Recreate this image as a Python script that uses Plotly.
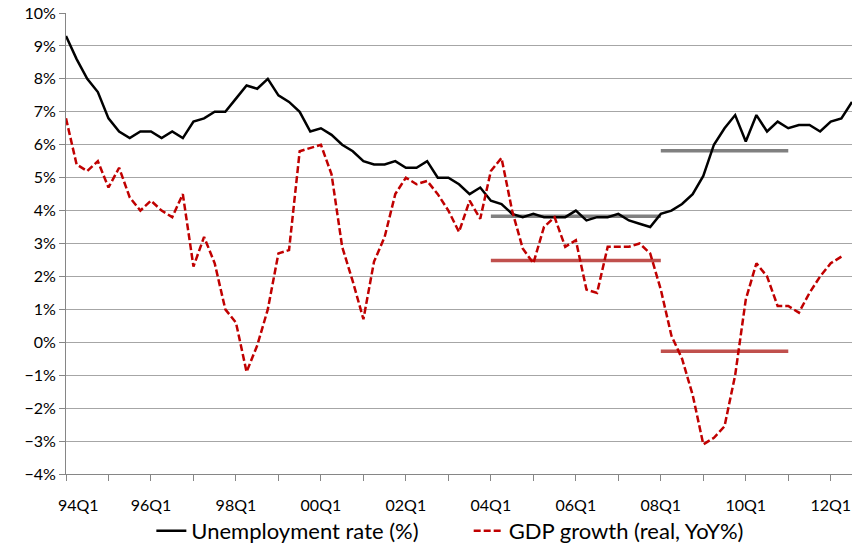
import plotly.graph_objects as go

years = list(range(1994, 2013))
quarters = [f"{y % 100:02d}Q{q}" for y in years for q in range(1, 5)][:75]

unemployment = [9.3, 8.6, 8.0, 7.6, 6.8, 6.4, 6.2, 6.4, 6.4, 6.2, 6.4, 6.2,
                6.7, 6.8, 7.0, 7.0, 7.4, 7.8, 7.7, 8.0, 7.5, 7.3, 7.0, 6.4,
                6.5, 6.3, 6.0, 5.8, 5.5, 5.4, 5.4, 5.5, 5.3, 5.3, 5.5, 5.0,
                5.0, 4.8, 4.5, 4.7, 4.3, 4.2, 3.9, 3.8, 3.9, 3.8, 3.8, 3.8,
                4.0, 3.7, 3.8, 3.8, 3.9, 3.7, 3.6, 3.5, 3.9, 4.0, 4.2, 4.5,
                5.05, 6.0, 6.5, 6.9, 6.1, 6.9, 6.4, 6.7, 6.5, 6.6, 6.6, 6.4,
                6.7, 6.8, 7.3]

gdp_growth = [6.8, 5.4, 5.2, 5.5, 4.7, 5.3, 4.4, 4.0, 4.3, 4.0, 3.8, 4.5,
              2.3, 3.2, 2.4, 1.0, 0.6, -0.9, -0.1, 1.0, 2.7, 2.8, 5.8, 5.9,
              6.0, 5.1, 2.9, 1.85, 0.7, 2.45, 3.2, 4.5, 5.0, 4.8, 4.9, 4.5,
              4.0, 3.35, 4.3, 3.75, 5.2, 5.6, 4.0, 2.85, 2.4, 3.5, 3.8, 2.9,
              3.1, 1.6, 1.5, 2.9, 2.9, 2.9, 3.0, 2.7, 1.6, 0.2, -0.5, -1.6,
              -3.1, -2.9, -2.55, -1.0, 1.3, 2.4, 2.0, 1.1, 1.1, 0.9, 1.5, 2.0,
              2.4, 2.6]

# period average reference levels
period_start = ["04Q1", "08Q1"]
period_end = ["08Q1", "11Q1"]
unemp_level = [3.83, 5.82]
gdp_level = [2.48, -0.27]

tick_vals = quarters[::4]
tick_text = [q if i % 2 == 0 else "" for i, q in enumerate(tick_vals)]
tick_text[0] = "\u00a0\u00a0\u00a0\u00a0\u00a0\u00a0" + tick_text[0]

FONT = "Lato, 'Open Sans', sans-serif"
NB = "\u00a0"

fig = go.Figure()

for s, e, lv in zip(period_start, period_end, unemp_level):
    fig.add_trace(go.Scatter(x=[s, e], y=[lv, lv], mode="lines",
                             line=dict(color="#808080", width=3.5),
                             showlegend=False, hoverinfo="skip"))
for s, e, lv in zip(period_start, period_end, gdp_level):
    fig.add_trace(go.Scatter(x=[s, e], y=[lv, lv], mode="lines",
                             line=dict(color="#c0504d", width=3.5),
                             showlegend=False, hoverinfo="skip"))

fig.add_trace(go.Scatter(x=quarters, y=unemployment, mode="lines",
                         name="Unemployment rate (%)" + NB * 8,
                         line=dict(color="black", width=2.5)))
fig.add_trace(go.Scatter(x=quarters[:len(gdp_growth)], y=gdp_growth, mode="lines",
                         name="GDP growth (real, YoY%)",
                         line=dict(color="#c00000", width=2.5, dash="7px,3px")))

fig.update_layout(
    width=855, height=548,
    margin=dict(l=66, r=3, t=13, b=74),
    paper_bgcolor="white", plot_bgcolor="white",
    font=dict(family=FONT, size=16, color="black"),
    legend=dict(orientation="h", x=0.489, xanchor="center",
                yref="container", y=0.031, yanchor="middle",
                font=dict(size=22), itemwidth=30, tracegroupgap=0,
                bgcolor="rgba(0,0,0,0)"),
    showlegend=True,
)
fig.update_xaxes(
    type="category", categoryorder="array", categoryarray=quarters,
    range=[0, len(quarters) - 1], automargin=False,
    tickmode="array", tickvals=tick_vals, ticktext=tick_text,
    ticks="outside", ticklen=6, tickcolor="#868686",
    showline=True, linecolor="#868686", linewidth=1,
    showgrid=False, tickangle=0, tickfont=dict(size=16),
    ticklabelstandoff=11,
)
fig.update_yaxes(
    range=[-4, 10], dtick=1, ticksuffix="%", automargin=False,
    ticks="outside", ticklen=6, tickcolor="#868686",
    showline=True, linecolor="#868686", linewidth=1,
    showgrid=True, gridcolor="#a6a6a6", gridwidth=1,
    zeroline=False, tickfont=dict(size=16),
)

fig.write_html(
    "out.html",
    config={"displayModeBar": False},
    post_script="document.body.style.margin='0';document.body.style.overflow='hidden';",
)
